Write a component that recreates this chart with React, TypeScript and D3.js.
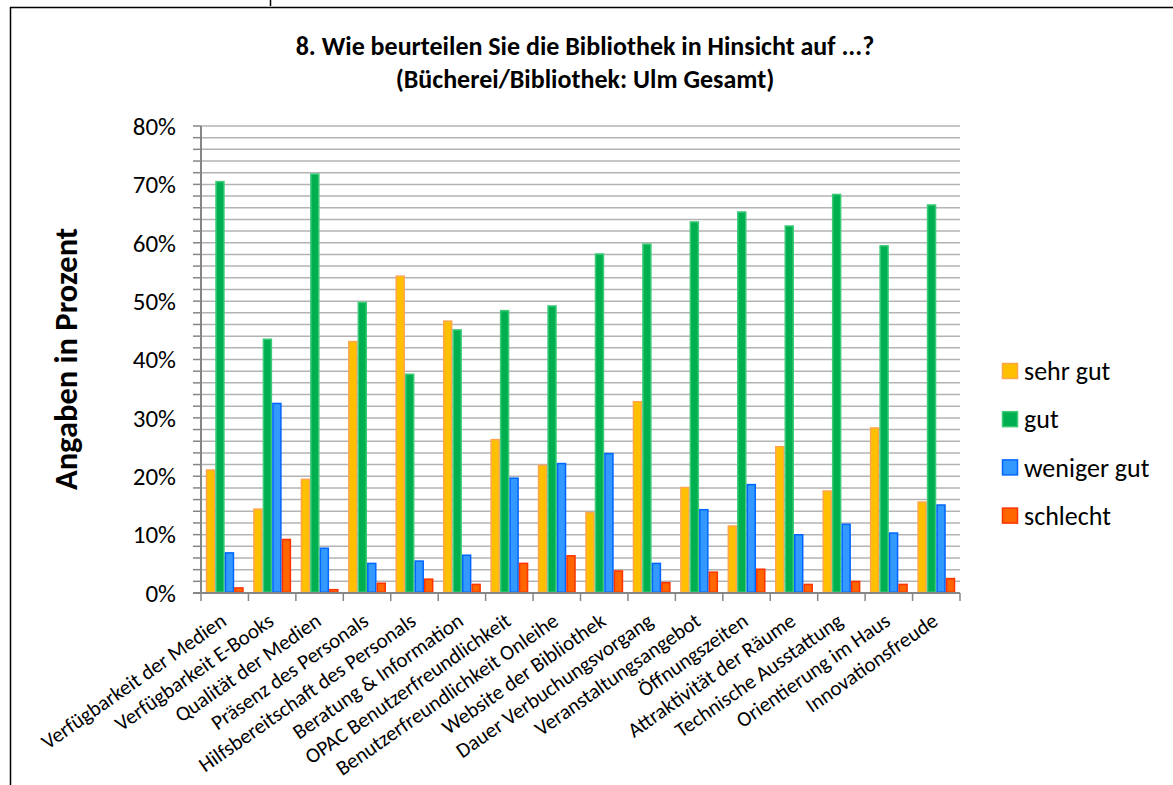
import React from "react";
import * as d3 from "d3";

const categories: string[] = [
  "Verfügbarkeit der Medien",
  "Verfügbarkeit E-Books",
  "Qualität der Medien",
  "Präsenz des Personals",
  "Hilfsbereitschaft des Personals",
  "Beratung & Information",
  "OPAC Benutzerfreundlichkeit",
  "Benutzerfreundlichkeit Onleihe",
  "Website der Bibliothek",
  "Dauer Verbuchungsvorgang",
  "Veranstaltungsangebot",
  "Öffnungszeiten",
  "Attraktivität der Räume",
  "Technische Ausstattung",
  "Orientierung im Haus",
  "Innovationsfreude",
];

const sehrGut: number[] = [21.2, 14.5, 19.6, 43.2, 54.4, 46.7, 26.4, 22.0, 13.9, 32.9, 18.2, 11.6, 25.2, 17.6, 28.4, 15.7];
const gut: number[] = [70.6, 43.6, 71.9, 49.9, 37.6, 45.2, 48.5, 49.3, 58.2, 59.9, 63.7, 65.4, 63.0, 68.4, 59.6, 66.6];
const wenigerGut: number[] = [7.0, 32.6, 7.8, 5.2, 5.6, 6.6, 19.8, 22.3, 24.0, 5.2, 14.4, 18.7, 10.1, 11.9, 10.4, 15.2];
const schlecht: number[] = [1.0, 9.3, 0.7, 1.8, 2.5, 1.6, 5.2, 6.5, 3.9, 1.9, 3.7, 4.2, 1.6, 2.1, 1.6, 2.6];

const seriesNames: string[] = ["sehr gut", "gut", "weniger gut", "schlecht"];
const yTickValues: number[] = [0, 10, 20, 30, 40, 50, 60, 70, 80];

const titleLines: string[] = [
  "8. Wie beurteilen Sie die Bibliothek in Hinsicht auf ...?",
  "(Bücherei/Bibliothek: Ulm Gesamt)",
];
const yAxisTitle = "Angaben in Prozent";

const fills = ["#FFC000", "#00B050", "#3399FF", "#FF6600"];
const strokes = ["#FFA64D", "#3DCB78", "#0066FF", "#FF3300"];

const FONT = "Carlito, Lato, 'Open Sans', sans-serif";

export default function App() {
  const W = 1173;
  const H = 785;
  const left = 201;
  const right = 960;
  const top = 126;
  const bottom = 593;

  const seriesData = [sehrGut, gut, wenigerGut, schlecht];

  const x = d3.scaleBand<string>().domain(categories).range([left, right]).paddingInner(0).paddingOuter(0);
  const bw = x.bandwidth();
  const xs = d3
    .scaleBand<number>()
    .domain(d3.range(seriesNames.length))
    .range([bw * 0.1, bw * 0.9])
    .padding(0);
  const y = d3.scaleLinear().domain([0, 80]).range([bottom, top]);

  const gridVals = d3.range(0, 80.001, 2);
  const catEdges = d3.range(categories.length + 1).map((i) => left + i * bw);

  return (
    <svg
      width={W}
      height={H}
      style={{ position: "absolute", left: 0, top: 0, background: "#fff" }}
      fontFamily={FONT}
    >
      <rect x={0} y={0} width={W} height={H} fill="#fff" />
      {/* outer frame */}
      <line x1={10.5} y1={7} x2={10.5} y2={H} stroke="#000" strokeWidth={1.5} />
      <line x1={10} y1={7.5} x2={W} y2={7.5} stroke="#000" strokeWidth={1.5} />
      <line x1={270.5} y1={0} x2={270.5} y2={6} stroke="#000" strokeWidth={1.5} />

      {/* title */}
      <text x={585} y={55} textAnchor="middle" fontSize={26} fontWeight="bold" fill="#000">
        {titleLines[0]}
      </text>
      <text x={585} y={88} textAnchor="middle" fontSize={26} fontWeight="bold" fill="#000">
        {titleLines[1]}
      </text>

      {/* gridlines */}
      {gridVals.map((v) => (
        <line key={"g" + v} x1={left} x2={right} y1={y(v)} y2={y(v)} stroke="#B3B3B3" strokeWidth={1.5} />
      ))}

      {/* y-axis ticks */}
      {gridVals.map((v) => (
        <line key={"t" + v} x1={193} x2={left} y1={y(v)} y2={y(v)} stroke="#868686" strokeWidth={1.5} />
      ))}

      {/* bars */}
      {categories.map((c, i) => (
        <g key={c}>
          {seriesData.map((s, k) => (
            <rect
              key={k}
              x={(x(c) as number) + (xs(k) as number) + 0.75}
              y={y(s[i]) + 0.75}
              width={xs.bandwidth() - 1.5}
              height={Math.max(0, bottom - y(s[i]) - 1.5)}
              fill={fills[k]}
              stroke={strokes[k]}
              strokeWidth={1.5}
            />
          ))}
        </g>
      ))}

      {/* axes */}
      <line x1={left} x2={left} y1={top} y2={bottom} stroke="#868686" strokeWidth={2} />
      <line x1={193} x2={right} y1={bottom} y2={bottom} stroke="#868686" strokeWidth={2} />
      {catEdges.map((e, i) => (
        <line key={"xt" + i} x1={e} x2={e} y1={bottom} y2={bottom + 8} stroke="#868686" strokeWidth={1.5} />
      ))}

      {/* y tick labels */}
      {yTickValues.map((v) => (
        <text key={"yl" + v} x={176} y={y(v)} dy="0.35em" textAnchor="end" fontSize={25} fill="#000">
          {v + "%"}
        </text>
      ))}

      {/* y-axis title */}
      <text
        transform={`translate(77,359) rotate(-90)`}
        textAnchor="middle"
        fontSize={32.5}
        fontWeight="bold"
        fill="#000"
      >
        {yAxisTitle}
      </text>

      {/* x labels */}
      {categories.map((c) => {
        const cx = (x(c) as number) + bw / 2;
        return (
          <text
            key={"xl" + c}
            transform={`translate(${cx + 3},${624}) rotate(-35)`}
            textAnchor="end"
            fontSize={21}
            fill="#000"
          >
            {c}
          </text>
        );
      })}

      {/* legend */}
      {seriesNames.map((n, k) => {
        const cy = 371 + k * 48.2;
        return (
          <g key={"lg" + n}>
            <rect x={1002.5} y={cy - 7.5} width={15} height={15} fill={fills[k]} stroke={strokes[k]} strokeWidth={1.5} />
            <text x={1024} y={cy} dy="0.35em" fontSize={26} fill="#000">
              {n}
            </text>
          </g>
        );
      })}
    </svg>
  );
}
